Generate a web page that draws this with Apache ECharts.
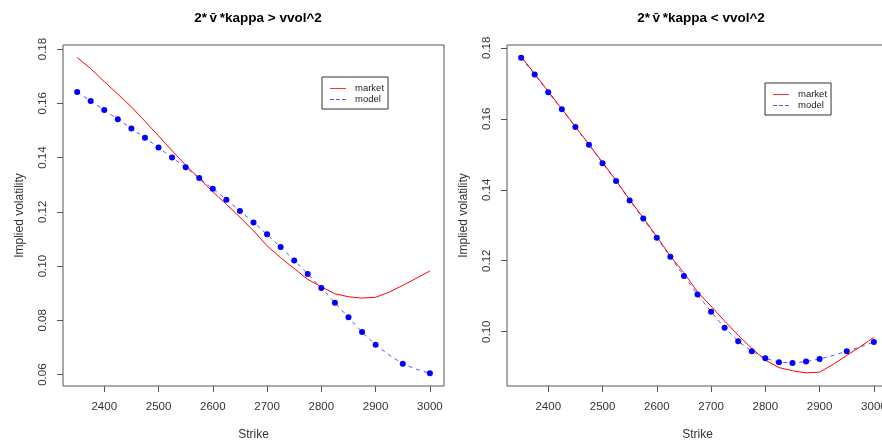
<!DOCTYPE html>
<html>
<head>
<meta charset="utf-8">
<script src="https://cdn.jsdelivr.net/npm/echarts@6/dist/echarts.min.js"></script>
<style>
  html, body { margin: 0; padding: 0; overflow: hidden; background: #fff; }
  #chart { width: 900px; height: 442px; }
</style>
</head>
<body>
<div id="chart"></div>
<script>
// Strikes shared by both panels
const strikes = [2350, 2375, 2400, 2425, 2450, 2475, 2500, 2525, 2550, 2575, 2600, 2625, 2650,
                 2675, 2700, 2725, 2750, 2775, 2800, 2825, 2850, 2875, 2900, 2925, 2950, 2975, 3000];

// Left panel: 2*v̄*kappa > vvol^2
const marketHigh = [0.1769, 0.1728, 0.1680, 0.1634, 0.1587, 0.1534, 0.1480, 0.1425, 0.1372, 0.1323,
                    0.1274, 0.1228, 0.1180, 0.1130, 0.1075, 0.1031, 0.0991, 0.0951, 0.0924, 0.0898,
                    0.0887, 0.0882, 0.0885, 0.0904, 0.0929, 0.0955, 0.0982];
const modelHigh  = [0.1642, 0.1609, 0.1575, 0.1541, 0.1507, 0.1473, 0.1437, 0.1400, 0.1364, 0.1325,
                    0.1285, 0.1245, 0.1203, 0.1161, 0.1117, 0.1070, 0.1021, 0.0971, 0.0919, 0.0865,
                    0.0811, 0.0757, 0.0710, 0.0672, 0.0640, 0.0620, 0.0605];
// model points that are marked (null = no marker at that strike)
const modelHighPts = [0.1642, 0.1609, 0.1575, 0.1541, 0.1507, 0.1473, 0.1437, 0.1400, 0.1364, 0.1325,
                      0.1285, 0.1245, 0.1203, 0.1161, 0.1117, 0.1070, 0.1021, 0.0971, 0.0919, 0.0865,
                      0.0811, 0.0757, 0.0710, null, 0.0640, null, 0.0605];

// Right panel: 2*v̄*kappa < vvol^2
const marketLow = [0.1775, 0.1727, 0.1677, 0.1628, 0.1578, 0.1528, 0.1477, 0.1426, 0.1372, 0.1321,
                   0.1268, 0.1213, 0.1166, 0.1112, 0.1072, 0.1030, 0.0990, 0.0953, 0.0920, 0.0899,
                   0.0890, 0.0884, 0.0886, 0.0908, 0.0933, 0.0958, 0.0984];
const modelLow  = [0.1772, 0.1725, 0.1675, 0.1627, 0.1577, 0.1527, 0.1475, 0.1425, 0.1370, 0.1319,
                   0.1265, 0.1211, 0.1157, 0.1105, 0.1056, 0.1011, 0.0973, 0.0945, 0.0925, 0.0914,
                   0.0912, 0.0916, 0.0923, 0.0933, 0.0945, 0.0957, 0.0971];
const modelLowPts = [0.1772, 0.1725, 0.1675, 0.1627, 0.1577, 0.1527, 0.1475, 0.1425, 0.1370, 0.1319,
                     0.1265, 0.1211, 0.1157, 0.1105, 0.1056, 0.1011, 0.0973, 0.0945, 0.0925, 0.0914,
                     0.0912, 0.0916, 0.0923, null, 0.0945, null, 0.0971];

// Tick labels
const strikeTicks = [2400, 2500, 2600, 2700, 2800, 2900, 3000];
const volTicksHigh = [0.06, 0.08, 0.10, 0.12, 0.14, 0.16, 0.18];
const volTicksLow = [0.10, 0.12, 0.14, 0.16, 0.18];

const titles = ['2*\u2009v\u0304\u2009*kappa > vvol^2', '2*\u2009v\u0304\u2009*kappa < vvol^2'];

const FONT = "'Liberation Sans', Arial, Helvetica, sans-serif";
const INK = '#333';
const BOX = '#555';
const RED = '#ff0000';
const BLUE = '#0000ff';
const DASH_BLUE = '#5555ff';

// legend glyphs: a solid stroke and a dashed stroke, drawn as thin bars
const SOLID_ICON = 'path://M0,0h20v1h-20z';
const DASH_ICON = 'path://M0,0h5v1h-5z M7.5,0h5v1h-5z M15,0h5v1h-5z';

const pairs = (ys) => strikes.map((s, i) => [s, ys[i]]);

function xAxis(grid) {
  return {
    type: 'value', gridIndex: grid, min: 2324, max: 3026,
    name: 'Strike', nameLocation: 'middle', nameGap: 43,
    nameTextStyle: { color: INK, fontFamily: FONT, fontSize: 12 },
    axisLine: { show: false },
    splitLine: { show: false },
    axisTick: { show: true, inside: false, length: 6, customValues: strikeTicks,
                lineStyle: { color: BOX, width: 1 } },
    axisLabel: { customValues: strikeTicks, margin: 15, color: INK, fontFamily: FONT, fontSize: 11.5,
                 formatter: v => String(v) }
  };
}

function yAxis(grid, min, max, ticks) {
  return {
    type: 'value', gridIndex: grid, min: min, max: max,
    name: 'Implied volatility', nameLocation: 'middle', nameGap: 37,
    nameTextStyle: { color: INK, fontFamily: FONT, fontSize: 12 },
    axisLine: { show: false },
    splitLine: { show: false },
    axisTick: { show: true, inside: false, length: 6, customValues: ticks,
                lineStyle: { color: BOX, width: 1 } },
    axisLabel: { customValues: ticks, rotate: 90, margin: 14, color: INK, fontFamily: FONT, fontSize: 11.5,
                 formatter: v => v.toFixed(2) }
  };
}

function legend(left, top) {
  return {
    left: left, top: top, orient: 'vertical',
    data: [
      { name: 'market', icon: SOLID_ICON,
        itemStyle: { color: RED, borderWidth: 0, opacity: 1 },
        lineStyle: { width: 0, opacity: 0 } },
      { name: 'model', icon: DASH_ICON,
        itemStyle: { color: DASH_BLUE, borderWidth: 0, opacity: 1 },
        lineStyle: { width: 0, opacity: 0 } }
    ],
    selectedMode: false,
    backgroundColor: '#fff',
    borderColor: '#333', borderWidth: 1, borderRadius: 0,
    padding: [6, 4, 4, 8],
    itemGap: 0, itemWidth: 16, itemHeight: 1,
    textStyle: { fontFamily: FONT, fontSize: 9.5, color: '#222', lineHeight: 11, padding: [0, 0, 0, 4] }
  };
}

function seriesFor(i, market, model, modelPts) {
  return [
    { name: 'market', type: 'line', xAxisIndex: i, yAxisIndex: i, data: pairs(market),
      symbol: 'none', showSymbol: false, silent: true, z: 3,
      lineStyle: { color: RED, width: 1 }, itemStyle: { color: RED } },
    { name: 'model', type: 'line', xAxisIndex: i, yAxisIndex: i, data: pairs(model),
      symbol: 'none', showSymbol: false, silent: true, z: 2,
      lineStyle: { color: DASH_BLUE, width: 1, type: [4, 4] }, itemStyle: { color: DASH_BLUE } },
    { name: 'model points', type: 'scatter', xAxisIndex: i, yAxisIndex: i,
      data: pairs(modelPts).filter(p => p[1] !== null),
      symbol: 'circle', symbolSize: 6, silent: true, z: 4,
      itemStyle: { color: BLUE, opacity: 1 } }
  ];
}

const gridBase = {
  top: 45, width: 381, height: 341, show: true, borderColor: BOX, borderWidth: 1,
  backgroundColor: 'transparent', containLabel: false, outerBoundsMode: 'none'
};

const chart = echarts.init(document.getElementById('chart'), null, { renderer: 'canvas' });
chart.setOption({
  animation: false,
  backgroundColor: '#fff',
  title: [
    { text: titles[0], left: 253, top: 6, textAlign: 'center',
      textStyle: { fontFamily: FONT, fontSize: 13.5, fontWeight: 'bold', color: '#000' } },
    { text: titles[1], left: 696, top: 6, textAlign: 'center',
      textStyle: { fontFamily: FONT, fontSize: 13.5, fontWeight: 'bold', color: '#000' } }
  ],
  legend: [legend(322, 77), legend(765, 83)],
  grid: [
    Object.assign({ left: 63 }, gridBase),
    Object.assign({ left: 507 }, gridBase)
  ],
  xAxis: [xAxis(0), xAxis(1)],
  yAxis: [yAxis(0, 0.0558, 0.1815, volTicksHigh), yAxis(1, 0.0847, 0.1808, volTicksLow)],
  series: [].concat(
    seriesFor(0, marketHigh, modelHigh, modelHighPts),
    seriesFor(1, marketLow, modelLow, modelLowPts)
  )
});
</script>
</body>
</html>
